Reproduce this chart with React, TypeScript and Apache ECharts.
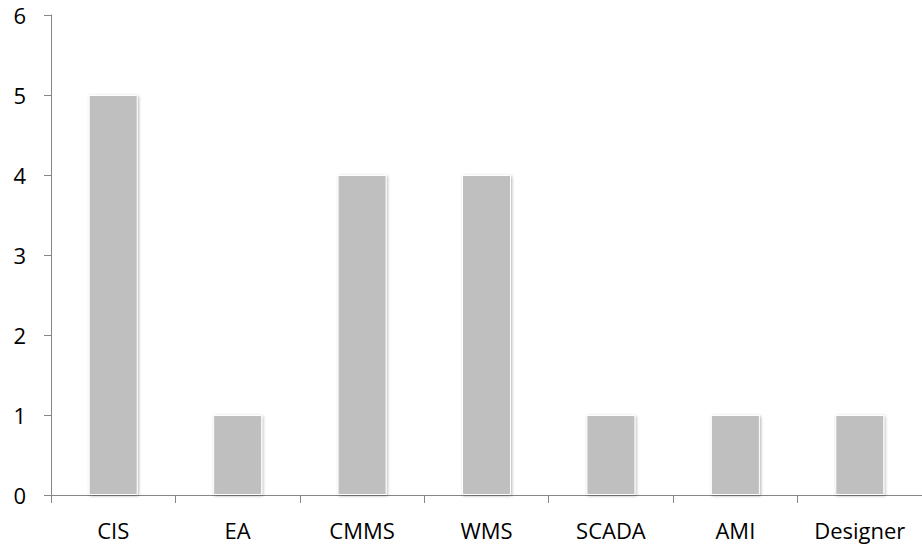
import React, { useEffect, useRef } from "react";
import * as echarts from "echarts";

const categories = ["CIS", "EA", "CMMS", "WMS", "SCADA", "AMI", "Designer"];
const values = [5, 1, 4, 4, 1, 1, 1];

export default function App() {
  const ref = useRef<HTMLDivElement>(null);
  useEffect(() => {
    if (!ref.current) return;
    const chart = echarts.init(ref.current, undefined, { renderer: "svg" });
    const axisColor = "#868686";
    const font = "'Open Sans', 'Noto Sans', sans-serif";
    chart.setOption({
      animation: false,
      backgroundColor: "#ffffff",
      grid: { left: 51, top: 15, bottom: 49, right: -4, containLabel: false },
      xAxis: {
        type: "category",
        data: categories,
        axisLine: { show: true, lineStyle: { color: axisColor, width: 1 } },
        axisTick: { show: true, length: 8, lineStyle: { color: axisColor } },
        axisLabel: { color: "#000", fontSize: 22, fontFamily: font, margin: 24, interval: 0 },
        splitLine: { show: false },
      },
      yAxis: {
        type: "value",
        min: 0,
        max: 6,
        interval: 1,
        axisLine: { show: true, lineStyle: { color: axisColor, width: 1 } },
        axisTick: { show: true, length: 7, lineStyle: { color: axisColor } },
        axisLabel: { color: "#000", fontSize: 22, fontFamily: font, margin: 25 },
        splitLine: { show: false },
      },
      series: [
        {
          type: "bar",
          data: values,
          barWidth: 49,
          itemStyle: {
            color: "#bfbfbf",
            borderColor: "#ffffff",
            borderWidth: 1,
            shadowBlur: 3,
            shadowColor: "rgba(0,0,0,0.3)",
            shadowOffsetX: 1,
            shadowOffsetY: 1,
          },
        },
      ],
    });
    return () => chart.dispose();
  }, []);
  return (
    <div
      ref={ref}
      style={{ position: "fixed", left: 0, top: 0, width: 922, height: 544, overflow: "hidden" }}
    />
  );
}
